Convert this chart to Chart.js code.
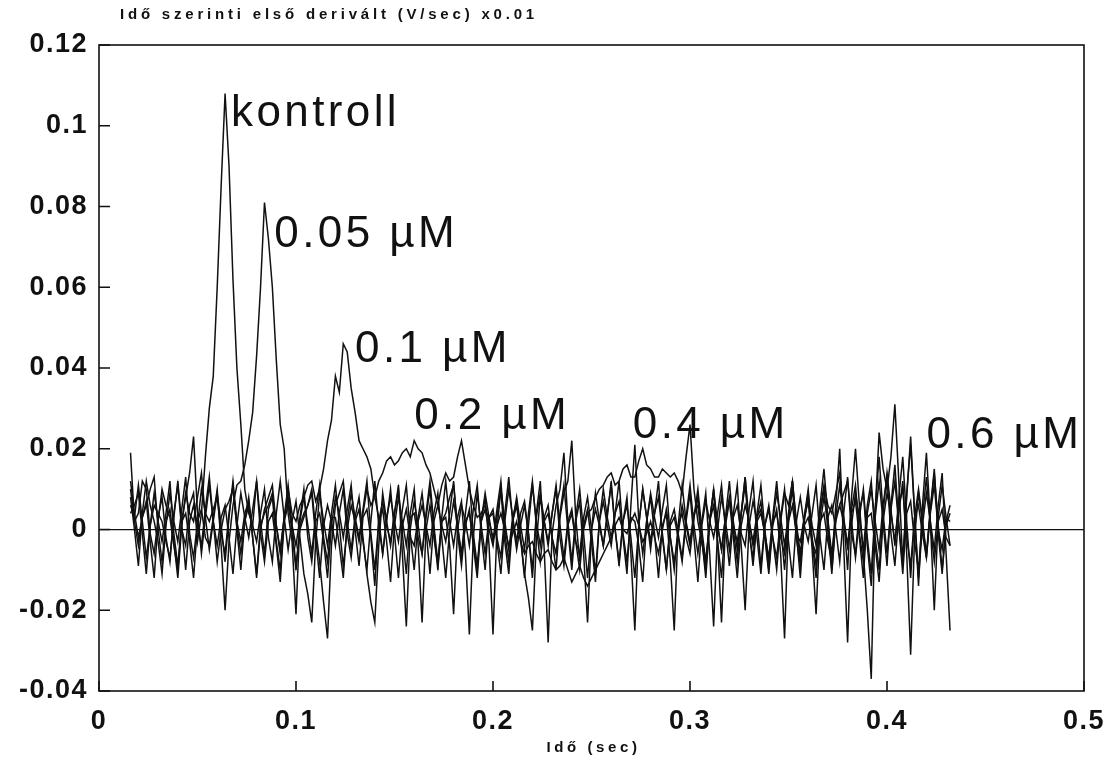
<!DOCTYPE html>
<html>
<head>
<meta charset="utf-8">
<script src="https://cdn.jsdelivr.net/npm/chart.js@4"></script>
<style>
  body { margin: 0; background: #fff; }
  #wrap { width: 1110px; height: 765px; }
</style>
</head>
<body>
<div id="wrap"><canvas id="derivChart" width="1110" height="765"></canvas></div>
<script>

// time grid (sec)
const times = [
  0.016,0.018,0.020,0.022,0.024,0.026,0.028,0.030,0.032,0.034,0.036,0.038,0.040,0.042,0.044,0.046,0.048,0.050,0.052,0.054,
  0.056,0.058,0.060,0.062,0.064,0.066,0.068,0.070,0.072,0.074,0.076,0.078,0.080,0.082,0.084,0.086,0.088,0.090,0.092,0.094,
  0.096,0.098,0.100,0.102,0.104,0.106,0.108,0.110,0.112,0.114,0.116,0.118,0.120,0.122,0.124,0.126,0.128,0.130,0.132,0.134,
  0.136,0.138,0.140,0.142,0.144,0.146,0.148,0.150,0.152,0.154,0.156,0.158,0.160,0.162,0.164,0.166,0.168,0.170,0.172,0.174,
  0.176,0.178,0.180,0.182,0.184,0.186,0.188,0.190,0.192,0.194,0.196,0.198,0.200,0.202,0.204,0.206,0.208,0.210,0.212,0.214,
  0.216,0.218,0.220,0.222,0.224,0.226,0.228,0.230,0.232,0.234,0.236,0.238,0.240,0.242,0.244,0.246,0.248,0.250,0.252,0.254,
  0.256,0.258,0.260,0.262,0.264,0.266,0.268,0.270,0.272,0.274,0.276,0.278,0.280,0.282,0.284,0.286,0.288,0.290,0.292,0.294,
  0.296,0.298,0.300,0.302,0.304,0.306,0.308,0.310,0.312,0.314,0.316,0.318,0.320,0.322,0.324,0.326,0.328,0.330,0.332,0.334,
  0.336,0.338,0.340,0.342,0.344,0.346,0.348,0.350,0.352,0.354,0.356,0.358,0.360,0.362,0.364,0.366,0.368,0.370,0.372,0.374,
  0.376,0.378,0.380,0.382,0.384,0.386,0.388,0.390,0.392,0.394,0.396,0.398,0.400,0.402,0.404,0.406,0.408,0.410,0.412,0.414,
  0.416,0.418,0.420,0.422,0.424,0.426,0.428,0.430,0.432
];

const seriesNames = ["kontroll", "0.05 µM", "0.1 µM", "0.2 µM", "0.4 µM", "0.6 µM"];

const kontroll = [
  0.019,0.002,0.004,0.012,0.010,-0.001,-0.006,0.003,0.008,-0.002,-0.008,0.004,0.011,0.000,-0.004,0.006,0.009,-0.003,0.004,0.018,
  0.030,0.038,0.060,0.085,0.108,0.090,0.062,0.040,0.026,0.010,0.004,0.001,0.012,0.002,-0.006,0.005,0.008,-0.003,-0.010,0.002,
  0.006,0.001,-0.004,0.003,0.010,-0.002,-0.008,0.002,0.004,-0.003,-0.012,0.001,0.008,0.004,-0.002,0.005,0.011,0.000,-0.009,0.003,
  0.005,-0.002,-0.014,0.002,0.007,0.001,-0.003,0.004,0.010,-0.001,-0.011,0.003,0.004,-0.002,-0.006,0.004,0.012,0.001,-0.008,0.002,
  0.003,-0.004,-0.021,0.000,0.006,0.002,-0.004,0.005,0.011,-0.001,-0.010,0.003,0.005,-0.002,-0.007,0.004,0.013,0.002,-0.005,0.001,
  0.006,-0.001,-0.012,0.003,0.009,0.002,-0.003,0.004,0.010,-0.002,-0.009,0.001,0.004,-0.003,-0.006,0.003,0.008,0.000,-0.011,0.002,
  0.007,0.001,-0.004,0.004,0.012,-0.001,-0.008,0.003,0.002,-0.004,-0.013,0.002,0.009,0.003,-0.002,0.005,0.011,-0.002,-0.010,0.001,
  0.004,-0.002,-0.006,0.003,0.010,0.000,-0.008,0.002,0.006,-0.003,-0.012,0.002,0.008,0.001,-0.003,0.004,0.013,-0.001,-0.007,0.003,
  0.005,-0.001,-0.010,0.002,0.009,0.003,-0.004,0.004,0.012,-0.002,-0.009,0.001,0.003,-0.003,-0.006,0.004,0.010,0.000,-0.011,0.003,
  0.006,0.002,-0.004,0.005,0.011,-0.001,-0.008,0.003,0.004,-0.004,-0.013,0.002,0.009,0.004,-0.003,0.006,0.010,-0.002,-0.009,0.003,
  0.006,-0.001,-0.007,0.004,0.011,0.000,-0.005,0.003,0.002
];

const conc005 = [
  0.008,0.000,-0.009,0.004,0.012,0.006,0.002,-0.003,-0.011,0.001,0.009,0.002,-0.003,0.005,0.013,-0.001,-0.007,0.002,0.005,-0.002,
  -0.004,0.003,0.010,-0.004,-0.020,-0.003,0.006,0.011,0.012,0.016,0.022,0.029,0.043,0.060,0.081,0.072,0.060,0.042,0.026,0.020,
  0.004,-0.003,-0.021,0.002,0.008,0.001,-0.006,0.004,0.011,-0.002,-0.008,0.003,0.003,-0.004,-0.012,0.002,0.009,0.003,-0.002,0.005,
  0.012,-0.001,-0.010,0.002,0.005,-0.003,-0.013,0.001,0.008,0.002,-0.004,0.004,0.010,-0.004,-0.023,0.000,0.006,-0.002,-0.009,0.003,
  0.012,0.002,-0.004,0.003,0.007,-0.006,-0.026,-0.002,0.009,0.001,-0.006,0.003,0.004,-0.003,-0.011,0.002,0.010,0.003,-0.003,0.004,
  0.007,-0.001,-0.010,0.004,0.012,-0.005,-0.028,-0.001,0.006,0.010,0.019,0.002,-0.008,0.003,0.010,-0.001,-0.012,0.000,0.005,0.001,
  -0.004,0.004,0.011,0.000,-0.009,0.002,0.008,-0.006,-0.025,0.001,0.010,0.003,-0.005,0.004,0.012,-0.002,-0.010,0.001,0.003,-0.002,
  -0.008,0.002,0.009,-0.002,-0.013,0.001,0.007,0.002,-0.002,0.004,0.011,0.000,-0.009,0.003,0.006,-0.001,-0.004,0.005,0.012,-0.002,
  -0.011,0.001,0.005,-0.002,-0.007,0.003,0.010,-0.003,-0.012,0.002,0.008,0.001,-0.003,0.004,0.011,-0.002,-0.010,0.003,0.006,0.000,
  -0.008,0.004,0.013,-0.001,-0.006,0.005,0.009,-0.004,-0.014,0.003,0.012,0.002,-0.009,0.006,0.016,0.001,-0.011,0.004,0.007,-0.003,
  -0.010,0.003,0.013,0.001,-0.008,0.002,0.005,-0.002,-0.004
];

const conc01 = [
  0.012,0.004,-0.002,0.003,0.007,-0.003,-0.012,0.002,0.010,0.006,0.003,-0.004,-0.010,0.002,0.008,0.014,0.023,0.004,-0.006,0.003,
  0.011,0.002,-0.004,0.003,0.006,-0.002,-0.011,0.001,0.009,0.003,-0.002,0.005,0.012,-0.001,-0.008,0.002,0.004,-0.004,-0.013,0.002,
  0.010,0.004,0.002,0.006,0.008,0.011,0.012,0.007,0.010,0.015,0.022,0.027,0.038,0.034,0.046,0.044,0.035,0.029,0.022,0.020,
  0.018,0.015,0.008,0.003,-0.006,0.002,0.010,-0.001,-0.012,0.001,0.005,-0.002,-0.004,0.003,0.009,0.000,-0.011,0.002,0.006,0.001,
  -0.003,0.004,0.012,-0.001,-0.009,0.002,0.004,-0.003,-0.010,0.002,0.008,-0.004,-0.026,0.000,0.010,0.002,-0.005,0.003,0.007,-0.002,
  -0.012,0.001,0.011,0.002,-0.004,0.003,0.006,-0.002,-0.010,0.003,0.009,0.012,0.022,0.003,-0.008,0.001,0.005,-0.003,-0.013,0.002,
  0.010,0.003,-0.002,0.004,0.007,-0.002,-0.011,0.006,0.021,0.002,-0.006,0.002,0.008,-0.001,-0.012,0.001,0.004,-0.008,-0.025,0.001,
  0.011,0.002,-0.003,0.004,0.006,-0.003,-0.010,0.002,0.009,0.001,-0.005,0.003,0.012,0.000,-0.008,0.004,0.013,0.002,-0.004,0.003,
  0.007,-0.002,-0.011,0.001,0.005,-0.006,-0.027,0.002,0.012,0.001,-0.006,0.003,0.010,-0.002,-0.009,0.002,0.004,-0.003,-0.008,0.006,
  0.020,-0.004,-0.028,0.001,0.009,0.003,-0.005,0.006,0.012,-0.002,-0.010,0.004,0.014,0.005,-0.004,0.008,0.018,0.002,-0.012,0.003,
  0.010,0.002,-0.007,0.005,0.015,-0.001,-0.011,0.002,0.006
];

const conc02 = [
  0.006,0.003,0.011,0.002,-0.007,0.001,0.009,0.002,-0.003,0.004,0.012,-0.001,-0.009,0.002,0.004,-0.003,-0.012,0.001,0.010,0.004,
  0.002,0.005,0.008,-0.001,-0.006,0.004,0.011,0.000,-0.010,0.002,0.006,0.001,-0.003,0.004,0.010,-0.002,-0.008,0.004,0.012,0.003,
  -0.005,0.002,0.007,-0.002,-0.011,-0.016,-0.023,-0.003,0.009,0.002,-0.004,0.004,0.011,0.001,-0.009,0.000,0.006,0.002,-0.003,0.004,
  0.010,0.006,0.008,0.012,0.014,0.017,0.018,0.016,0.017,0.019,0.020,0.018,0.022,0.020,0.019,0.016,0.014,0.010,0.006,0.011,
  0.014,0.012,0.013,0.018,0.022,0.016,0.010,0.006,0.003,0.004,0.006,0.002,-0.002,0.001,0.004,0.000,-0.004,-0.001,0.002,-0.003,
  -0.006,-0.004,-0.003,-0.006,-0.008,-0.006,-0.005,-0.008,-0.010,-0.009,-0.007,-0.010,-0.013,-0.011,-0.009,-0.012,-0.014,-0.012,-0.010,-0.008,
  -0.006,-0.004,-0.002,0.001,0.003,0.000,-0.001,0.002,0.004,0.001,-0.003,-0.001,0.002,-0.002,-0.006,0.000,0.005,-0.002,-0.008,-0.001,
  0.006,0.001,-0.004,0.003,0.008,-0.002,-0.012,0.002,0.010,-0.003,-0.023,0.001,0.007,0.002,-0.005,0.004,0.011,0.000,-0.009,0.002,
  0.004,-0.001,-0.007,0.003,0.012,0.001,-0.010,0.002,0.006,-0.001,-0.003,0.003,0.009,-0.005,-0.021,0.001,0.008,0.002,-0.006,0.003,
  0.011,0.003,-0.004,0.004,0.007,-0.002,-0.012,0.004,0.010,0.002,-0.005,0.006,0.013,-0.001,-0.009,0.004,0.012,-0.006,-0.031,-0.002,
  0.009,0.002,-0.006,0.005,0.014,0.001,-0.010,0.001,0.004
];

const conc04 = [
  0.010,0.002,-0.004,0.003,0.006,0.010,0.013,0.000,-0.008,0.002,0.005,-0.003,-0.012,0.001,0.009,0.004,0.002,0.008,0.014,0.003,
  -0.005,0.002,0.009,0.001,-0.008,0.003,0.012,0.002,-0.003,0.004,0.007,-0.002,-0.012,0.000,0.005,0.008,0.011,0.001,-0.006,0.003,
  0.008,-0.001,-0.010,0.001,0.004,0.006,0.010,0.000,-0.008,-0.018,-0.027,-0.004,0.006,0.009,0.012,0.002,-0.005,0.003,0.008,-0.002,
  -0.011,-0.018,-0.023,-0.004,0.009,0.002,-0.004,0.004,0.011,-0.006,-0.024,0.000,0.007,0.001,-0.006,0.003,0.010,0.000,-0.010,0.002,
  0.004,0.008,0.011,0.001,-0.007,0.001,0.005,-0.004,-0.012,0.002,0.009,0.003,-0.003,0.005,0.012,-0.001,-0.008,0.002,0.006,-0.002,
  -0.011,-0.017,-0.025,-0.003,0.008,0.002,-0.004,0.004,0.011,0.001,-0.007,0.002,0.005,-0.003,-0.010,0.000,0.004,0.005,0.008,0.010,
  0.011,0.013,0.014,0.011,0.012,0.015,0.016,0.013,0.013,0.017,0.020,0.016,0.015,0.013,0.013,0.015,0.014,0.013,0.014,0.012,
  0.009,0.018,0.026,0.010,0.002,-0.003,-0.008,0.002,0.010,0.001,-0.005,0.003,0.007,-0.002,-0.012,0.001,0.006,0.002,-0.003,0.004,
  0.011,0.000,-0.009,0.002,0.004,-0.002,-0.006,0.003,0.010,-0.001,-0.012,0.002,0.008,0.001,-0.004,0.006,0.015,0.003,-0.010,0.002,
  0.006,0.009,0.012,0.002,-0.007,0.003,0.010,-0.002,-0.011,0.005,0.018,0.004,-0.006,0.005,0.012,0.001,-0.009,0.008,0.023,0.004,
  -0.012,0.001,0.009,0.002,-0.005,0.006,0.014,-0.006,-0.025
];

const conc06 = [
  0.004,0.006,0.009,-0.001,-0.011,0.001,0.006,0.004,0.002,-0.003,-0.007,0.003,0.012,0.001,-0.010,0.002,0.006,0.001,-0.004,0.005,
  0.013,0.002,-0.008,0.000,0.005,0.007,0.010,0.001,-0.006,0.002,0.008,-0.002,-0.011,0.001,0.004,0.006,0.009,0.001,-0.005,0.003,
  0.011,0.001,-0.009,0.000,0.003,0.006,0.009,-0.002,-0.012,0.001,0.006,0.002,-0.004,0.004,0.010,-0.001,-0.007,0.002,0.005,-0.003,
  -0.010,0.002,0.012,0.001,-0.006,0.003,0.008,0.002,-0.003,0.005,0.011,-0.001,-0.010,0.002,0.006,0.001,-0.004,0.004,0.009,-0.002,
  -0.012,0.000,0.007,0.001,-0.006,0.004,0.012,-0.001,-0.009,0.002,0.005,0.000,-0.004,0.003,0.010,-0.003,-0.011,0.002,0.008,0.001,
  -0.005,0.004,0.012,0.001,-0.008,0.002,0.004,-0.002,-0.006,0.004,0.011,0.000,-0.010,0.002,0.007,-0.006,-0.023,0.000,0.009,0.002,
  -0.004,0.003,0.012,0.000,-0.008,0.002,0.006,-0.002,-0.012,0.001,0.010,0.003,-0.003,0.004,0.008,-0.001,-0.010,0.002,0.005,-0.001,
  -0.007,0.003,0.011,0.001,-0.006,0.002,0.009,-0.006,-0.024,0.000,0.008,0.002,-0.005,0.004,0.011,-0.004,-0.020,0.001,0.007,0.002,
  -0.009,0.001,0.006,-0.002,-0.010,0.002,0.009,0.006,0.012,0.002,-0.008,0.003,0.007,-0.003,-0.012,0.004,0.011,0.006,0.004,0.009,
  0.014,0.003,-0.010,0.008,0.020,0.006,-0.006,-0.020,-0.037,0.004,0.024,0.015,0.010,0.018,0.031,0.012,-0.008,0.009,0.021,0.004,
  -0.014,0.006,0.019,0.002,-0.020,0.003,0.011,0.003,-0.004
];

const xTicks = [0, 0.1, 0.2, 0.3, 0.4, 0.5];
const yTicks = [-0.04, -0.02, 0, 0.02, 0.04, 0.06, 0.08, 0.1, 0.12];

const allSeries = [kontroll, conc005, conc01, conc02, conc04, conc06];


// text drawn next to each trace, anchored in data units (left x, baseline y)
const labelAnchors = [[0.067, 0.100], [0.089, 0.070], [0.130, 0.0415], [0.160, 0.0248], [0.271, 0.0226], [0.420, 0.0201]];
const fontFamily = "'Liberation Sans', Arial, sans-serif";

const framePlugin = {
  id: "frame",
  beforeDraw(chart){
    // tick labels in the scan are widely spaced
    chart.ctx.letterSpacing = "1.5px";
  },
  afterDraw(chart){
    const {ctx, chartArea: a, scales: {x, y}} = chart;
    ctx.save();
    ctx.strokeStyle = "#111";
    ctx.lineWidth = 1.6;
    ctx.strokeRect(a.left, a.top, a.width, a.height);

    // inward ticks
    ctx.beginPath();
    for (const t of y.ticks){
      const py = y.getPixelForValue(t.value);
      ctx.moveTo(a.left, py);
      ctx.lineTo(a.left + 11, py);
    }
    for (const t of x.ticks){
      const px = x.getPixelForValue(t.value);
      ctx.moveTo(px, a.bottom);
      ctx.lineTo(px, a.bottom - 10);
    }
    ctx.stroke();

    // trace names
    ctx.fillStyle = "#111";
    ctx.font = "44px " + fontFamily;
    ctx.letterSpacing = "3.4px";
    ctx.textBaseline = "alphabetic";
    ctx.textAlign = "left";
    seriesNames.forEach((name, i) => {
      const [lx, ly] = labelAnchors[i];
      ctx.fillText(name, x.getPixelForValue(lx), y.getPixelForValue(ly));
    });

    // y caption on top
    ctx.font = "bold 15px " + fontFamily;
    ctx.letterSpacing = "3.8px";
    ctx.textBaseline = "middle";
    ctx.fillText("Idő szerinti első derivált (V/sec) x0.01", a.left + 21, a.top - 30);

    // x caption
    ctx.font = "bold 15px " + fontFamily;
    ctx.letterSpacing = "3.6px";
    ctx.textAlign = "center";
    ctx.fillText("Idő (sec)", (a.left + a.right) / 2 + 2, 748);
    ctx.restore();
    ctx.letterSpacing = "0px";
  }
};

new Chart("derivChart", {
  type: "line",
  data: {
    datasets: allSeries.map((vals, i) => ({
      label: seriesNames[i],
      data: vals.map((v, j) => ({x: times[j], y: v})),
      borderColor: "#111",
      borderWidth: 1.5,
      pointRadius: 0,
      tension: 0,
      fill: false
    }))
  },
  options: {
    responsive: false,
    animation: false,
    events: [],
    layout: {padding: {top: 45, right: 26, left: 0, bottom: 0}},
    plugins: {
      legend: {display: false},
      tooltip: {enabled: false}
    },
    scales: {
      x: {
        type: "linear",
        min: 0,
        max: 0.5,
        afterBuildTicks: (s) => { s.ticks = xTicks.map(v => ({value: v})); },
        afterFit: (s) => { s.height = 74; s.paddingRight = 0; s.paddingLeft = 0; },
        border: {display: false},
        grid: {display: false, drawTicks: false},
        ticks: {
          padding: 14,
          color: "#111",
          font: {family: fontFamily, size: 27, weight: "bold"},
          callback: (v) => String(+v.toFixed(1))
        }
      },
      y: {
        min: -0.04,
        max: 0.12,
        afterBuildTicks: (s) => { s.ticks = yTicks.map(v => ({value: v})); },
        afterFit: (s) => { s.width = 99; s.paddingTop = 0; s.paddingBottom = 0; },
        border: {display: false},
        grid: {
          drawTicks: false,
          color: (c) => c.tick && c.tick.value === 0 ? "#111" : "rgba(0,0,0,0)",
          lineWidth: 1.2
        },
        ticks: {
          padding: 11,
          color: "#111",
          font: {family: fontFamily, size: 27, weight: "bold"},
          callback: (v) => String(+v.toFixed(2))
        }
      }
    }
  },
  plugins: [framePlugin]
});

</script>
</body>
</html>
